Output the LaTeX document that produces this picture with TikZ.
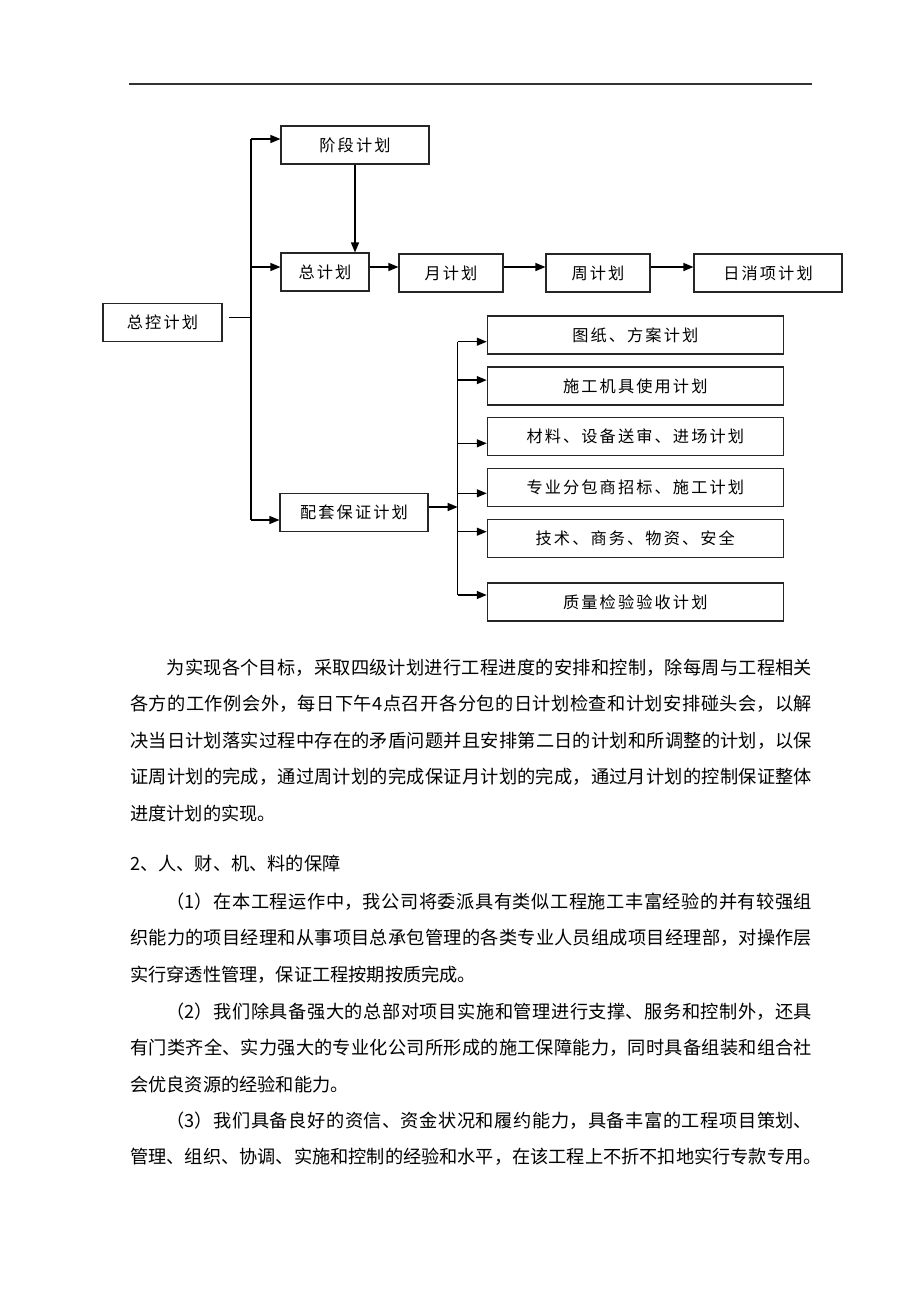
\documentclass[tikz,border=0pt]{standalone}
\usepackage{fontspec}
\setmainfont{Noto Sans CJK SC}
\newfontfamily\boxfont[LetterSpace=13]{Noto Sans CJK SC}
\usetikzlibrary{calc,arrows.meta}

\XeTeXlinebreaklocale "zh"
\XeTeXlinebreakskip=0pt plus 2pt
\XeTeXlinebreakpenalty=10000
\hfuzz=40pt
\hbadness=10000
\tolerance=9999

\tikzset{
  plan/.style={draw=black!85,line width=1.1pt,inner sep=0pt,minimum height=38pt,
    font=\boxfont\fontsize{16.2pt}{18pt}\selectfont},
  link/.style={line width=1.3pt},
  arr/.style={link,-{Triangle[length=10pt,width=8pt]}},
  body/.style={anchor=base west,inner sep=0pt,text width=682pt,align=justify,
    font=\fontsize{18.2pt}{36.5pt}\selectfont}
}

\begin{document}
\begin{tikzpicture}[x=1pt,y=-1pt]
  \useasboundingbox (0,0) rectangle (920,1302);
  \draw[black!80,line width=1.3pt] (129,84) -- (812,84);

  % plan boxes
  \node[plan,minimum width=119pt] (zkjh) at (162.5,322.5) {总控计划};
  \node[plan,minimum width=148pt] (jdjh) at (355,145) {阶段计划};
  \node[plan,minimum width=88pt] (zjh) at (325,272) {总计划};
  \node[plan,minimum width=104pt] (yjh) at (451,273) {月计划};
  \node[plan,minimum width=104pt] (zhjh) at (598,273) {周计划};
  \node[plan,minimum width=148pt] (rxjh) at (768,273) {日消项计划};
  \node[plan,minimum width=148pt] (ptjh) at (354,512.5) {配套保证计划};

  \node[plan,minimum width=296pt] (tzjh) at (635.3,335) {图纸、方案计划};
  \node[plan,minimum width=296pt] (jjjh) at (635.3,386) {施工机具使用计划};
  \node[plan,minimum width=296pt] (clsh) at (635.3,436.7) {材料、设备送审、进场计划};
  \node[plan,minimum width=296pt] (fbzb) at (635.3,487.5) {专业分包商招标、施工计划};
  \node[plan,minimum width=296pt] (jssw) at (635.3,538.2) {技术、商务、物资、安全};
  \node[plan,minimum width=296pt] (zljs) at (635.3,602) {质量检验验收计划};

  % main trunk
  \coordinate (top) at (251,139);
  \coordinate (bot) at (251,520);
  \coordinate (mid) at (251,267);
  \coordinate (zkout) at ($(zkjh.east)+(6,-5)$);
  \draw[link] (zkout) -- (zkout -| top);
  \draw[link] (top) -- (bot);
  \draw[arr] (top) -- (top -| jdjh.west);
  \draw[arr] (mid) -- (mid -| zjh.west);
  \draw[arr] (bot) -- (bot -| ptjh.west);
  \draw[arr] (jdjh.south) -- (jdjh.south |- zjh.north);

  % four levels
  \draw[arr] (mid -| zjh.east) -- (mid -| yjh.west);
  \draw[arr] (mid -| yjh.east) -- (mid -| zhjh.west);
  \draw[arr] (mid -| zhjh.east) -- (mid -| rxjh.west);

  % support plans
  \coordinate (stop) at (457.7,341.7);
  \coordinate (sbot) at (457.7,595);
  \coordinate (ptout) at ($(ptjh.east)+(0,-5.5)$);
  \draw[arr] (ptout) -- (ptout -| stop);
  \draw[link] (stop) -- (sbot);
  \draw[arr] (stop) -- (stop -| tzjh.west);
  \draw[arr] ($(stop |- jjjh.west)+(0,-5.9)$) -- ($(jjjh.west)+(0,-5.9)$);
  \draw[arr] ($(stop |- clsh.west)+(0,6.6)$) -- ($(clsh.west)+(0,6.6)$);
  \draw[arr] ($(stop |- fbzb.west)+(0,5.8)$) -- ($(fbzb.west)+(0,5.8)$);
  \draw[arr] ($(stop |- jssw.west)+(0,-6.5)$) -- ($(jssw.west)+(0,-6.5)$);
  \draw[arr] (sbot) -- (sbot -| zljs.west);

  % text
  \node[body] (para) at (130,674) {\hspace*{2em}为实现各个目标，采取四级计划进行工程进度的安排和控制，除每周与工程相关\linebreak
各方的工作例会外，每日下午4点召开各分包的日计划检查和计划安排碰头会，以解\linebreak
决当日计划落实过程中存在的矛盾问题并且安排第二日的计划和所调整的计划，以保\linebreak
证周计划的完成，通过周计划的完成保证月计划的完成，通过月计划的控制保证整体\linebreak
进度计划的实现。};
  \node[body] (sec2) at (130,870) {2、人、财、机、料的保障};
  \node[body] (item1) at (130,908) {\hspace*{2em}（1）在本工程运作中，我公司将委派具有类似工程施工丰富经验的并有较强组\linebreak
织能力的项目经理和从事项目总承包管理的各类专业人员组成项目经理部，对操作层\linebreak
实行穿透性管理，保证工程按期按质完成。};
  \node[body] (item2) at (130,1018) {\hspace*{2em}（2）我们除具备强大的总部对项目实施和管理进行支撑、服务和控制外，还具\linebreak
有门类齐全、实力强大的专业化公司所形成的施工保障能力，同时具备组装和组合社\linebreak
会优良资源的经验和能力。};
  \node[body] (item3) at (130,1127) {\hspace*{2em}（3）我们具备良好的资信、资金状况和履约能力，具备丰富的工程项目策划、\linebreak
管理、组织、协调、实施和控制的经验和水平，在该工程上不折不扣地实行专款专用。};
\end{tikzpicture}
\end{document}
